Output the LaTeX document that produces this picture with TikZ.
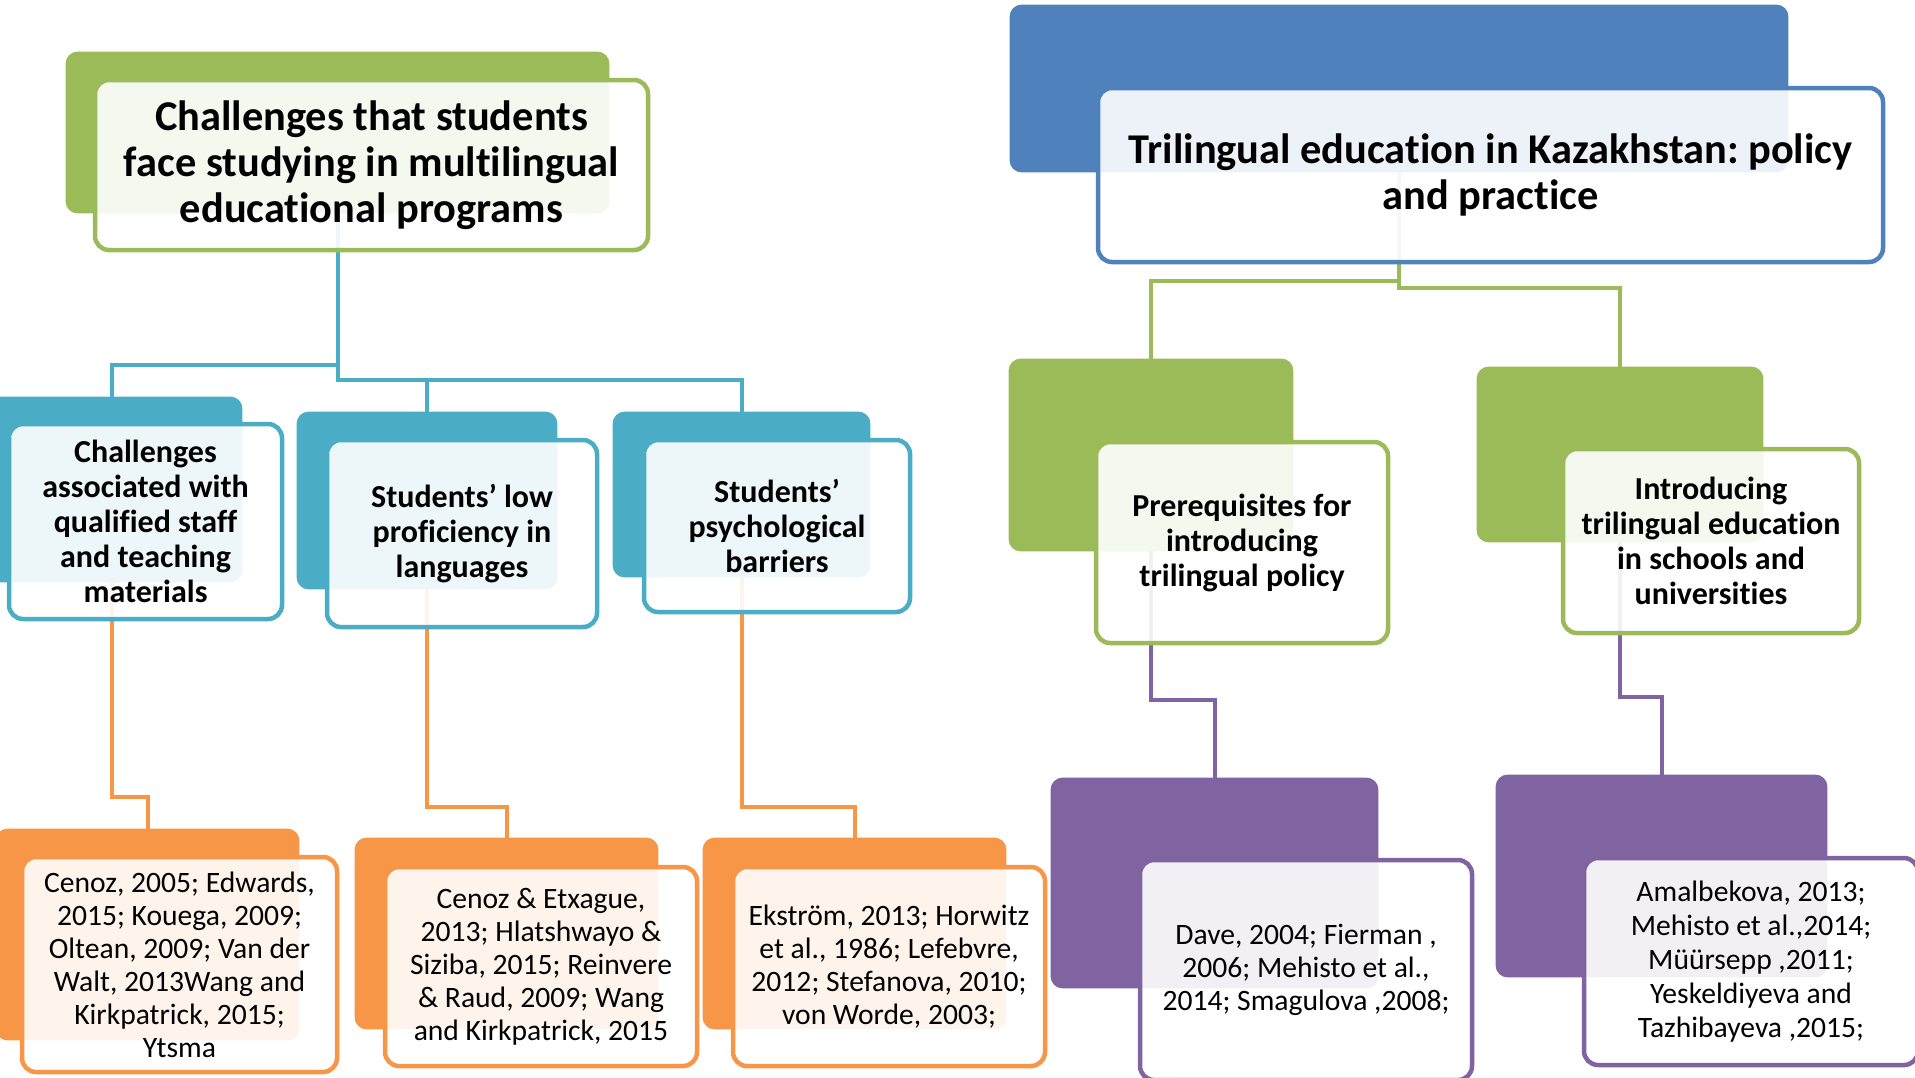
\documentclass[tikz,border=0pt]{standalone}
\usepackage{fontspec}
\setmainfont{Carlito}[Ligatures={TeX,NoCommon}]
\usetikzlibrary{fit}
\definecolor{accgreen}{HTML}{9BBB59}
\definecolor{accblue}{HTML}{4F81BD}
\definecolor{accteal}{HTML}{4BACC6}
\definecolor{accorange}{HTML}{F79646}
\definecolor{accpurple}{HTML}{8064A2}
\frenchspacing

\begin{document}
\begin{tikzpicture}[x=0.5pt, y=-0.5pt]
        \tikzstyle{back} = [rectangle, rounded corners=6pt, inner sep=0pt, draw=none]
        \tikzstyle{card} = [rectangle, rounded corners=7pt, inner sep=0pt, line width=2.25pt, fill=white, fill opacity=0.9]
        \tikzstyle{label} = [align=center, text=black, inner sep=0pt]
        \tikzstyle{link} = [line width=2pt]
        \tikzstyle{head} = [label, font=\fontsize{21.2}{23}\selectfont\bfseries]
        \tikzstyle{topic} = [label, font=\fontsize{16}{17.5}\selectfont\bfseries]
        \tikzstyle{refs} = [label, font=\fontsize{14.8}{16.5}\selectfont]

        \clip (0,0) rectangle (1915,1077);

        \node (lroot-bk) [back, fit={(66,52) (609,213)}] {};
        \node (ch1-bk) [back, fit={(-18,397) (242,582)}] {};
        \node (ch2-bk) [back, fit={(297,412) (557,589)}] {};
        \node (ch3-bk) [back, fit={(613,412) (870,577)}] {};
        \node (or1-bk) [back, fit={(-4,829) (299,1040)}] {};
        \node (or2-bk) [back, fit={(355,838) (658,1029)}] {};
        \node (or3-bk) [back, fit={(703,838) (1006,1029)}] {};
        \node (rroot-bk) [back, fit={(1010,5) (1788,172)}] {};
        \node (gr1-bk) [back, fit={(1009,359) (1293,551)}] {};
        \node (gr2-bk) [back, fit={(1477,367) (1763,542)}] {};
        \node (pu1-bk) [back, fit={(1051,778) (1378,988)}] {};
        \node (pu2-bk) [back, fit={(1496,775) (1827,977)}] {};

        \coordinate (lvlA) at (0,365);
        \coordinate (lvlB) at (0,380);
        \coordinate (lvlC) at (0,797);
        \coordinate (lvlD) at (0,807);
        \coordinate (lvlE) at (0,281);
        \coordinate (lvlF) at (0,288);
        \coordinate (lvlG) at (0,700);
        \coordinate (lvlH) at (0,697);

        \draw[link, accteal] (lroot-bk.center) |- (ch1-bk.north |- lvlA) -- (ch1-bk.north);
        \draw[link, accteal] (lroot-bk.center) |- (ch2-bk.north |- lvlB) -- (ch2-bk.north);
        \draw[link, accteal] (lroot-bk.center) |- (ch3-bk.north |- lvlB) -- (ch3-bk.north);
        \draw[link, accorange] (ch1-bk.center) |- (or1-bk.north |- lvlC) -- (or1-bk.north);
        \draw[link, accorange] (ch2-bk.center) |- (or2-bk.north |- lvlD) -- (or2-bk.north);
        \draw[link, accorange] (ch3-bk.center) |- (or3-bk.north |- lvlD) -- (or3-bk.north);
        \draw[link, accgreen] (rroot-bk.center) |- (gr1-bk.north |- lvlE) -- (gr1-bk.north);
        \draw[link, accgreen] (rroot-bk.center) |- (gr2-bk.north |- lvlF) -- (gr2-bk.north);
        \draw[link, accpurple] (gr1-bk.center) |- (pu1-bk.north |- lvlG) -- (pu1-bk.north);
        \draw[link, accpurple] (gr2-bk.center) |- (pu2-bk.north |- lvlH) -- (pu2-bk.north);

        \fill[accgreen, rounded corners=6pt] (lroot-bk.north west) rectangle (lroot-bk.south east);
        \fill[accteal, rounded corners=6pt] (ch1-bk.north west) rectangle (ch1-bk.south east);
        \fill[accteal, rounded corners=6pt] (ch2-bk.north west) rectangle (ch2-bk.south east);
        \fill[accteal, rounded corners=6pt] (ch3-bk.north west) rectangle (ch3-bk.south east);
        \fill[accorange, rounded corners=6pt] (or1-bk.north west) rectangle (or1-bk.south east);
        \fill[accorange, rounded corners=6pt] (or2-bk.north west) rectangle (or2-bk.south east);
        \fill[accorange, rounded corners=6pt] (or3-bk.north west) rectangle (or3-bk.south east);
        \fill[accblue, rounded corners=6pt] (rroot-bk.north west) rectangle (rroot-bk.south east);
        \fill[accgreen, rounded corners=6pt] (gr1-bk.north west) rectangle (gr1-bk.south east);
        \fill[accgreen, rounded corners=6pt] (gr2-bk.north west) rectangle (gr2-bk.south east);
        \fill[accpurple, rounded corners=6pt] (pu1-bk.north west) rectangle (pu1-bk.south east);
        \fill[accpurple, rounded corners=6pt] (pu2-bk.north west) rectangle (pu2-bk.south east);

        \node (lroot) [card, draw=accgreen, fit={(95,80) (648,250)}] {};
        \node (ch1) [card, draw=accteal, fit={(9,424) (282,619)}] {};
        \node (ch2) [card, draw=accteal, fit={(327,440) (597,627)}] {};
        \node (ch3) [card, draw=accteal, fit={(644,440) (910,612)}] {};
        \node (or1) [card, draw=accorange, fit={(22,857) (337,1072)}] {};
        \node (or2) [card, draw=accorange, fit={(385,867) (697,1066)}] {};
        \node (or3) [card, draw=accorange, fit={(733,867) (1045,1066)}] {};
        \node (rroot) [card, draw=accblue, fit={(1098,88) (1883,262)}] {};
        \node (gr1) [card, draw=accgreen, fit={(1096,442) (1388,643)}] {};
        \node (gr2) [card, draw=accgreen, fit={(1563,449) (1859,633)}] {};
        \node (pu1) [card, draw=accpurple, fit={(1140,860) (1472,1080)}] {};
        \node (pu2) [card, draw=accpurple, fit={(1584,858) (1918,1065)}] {};

        \node (lroot-txt) [head] at (lroot.center) {Challenges that students\\face studying in multilingual\\educational programs};
        \node (ch1-txt) [topic] at (ch1.center) {Challenges\\associated with\\qualified staff\\and teaching\\materials};
        \node (ch2-txt) [topic] at (ch2.center) {Students’ low\\proficiency in\\languages};
        \node (ch3-txt) [topic] at (ch3.center) {Students’\\psychological\\barriers};
        \node (or1-txt) [refs] at (or1.center) {Cenoz, 2005; Edwards,\\2015; Kouega, 2009;\\Oltean, 2009; Van der\\Walt, 2013Wang and\\Kirkpatrick, 2015;\\Ytsma};
        \node (or2-txt) [refs] at (or2.center) {Cenoz \& Etxague,\\2013; Hlatshwayo \&\\Siziba, 2015; Reinvere\\\& Raud, 2009; Wang\\and Kirkpatrick, 2015};
        \node (or3-txt) [refs] at (or3.center) {Ekström, 2013; Horwitz\\et al., 1986; Lefebvre,\\2012; Stefanova, 2010;\\von Worde, 2003;};
        \node (rroot-txt) [head] at (rroot.center) {Trilingual education in Kazakhstan: policy\\and practice};
        \node (gr1-txt) [topic] at (gr1.center) {Prerequisites for\\introducing\\trilingual policy};
        \node (gr2-txt) [topic] at (gr2.center) {Introducing\\trilingual education\\in schools and\\universities};
        \node (pu1-txt) [refs] at (pu1.center) {Dave, 2004; Fierman ,\\2006; Mehisto et al.,\\2014; Smagulova ,2008;};
        \node (pu2-txt) [refs, font=\fontsize{14.8}{17}\selectfont] at (pu2.center) {Amalbekova, 2013;\\Mehisto et al.,2014;\\Müürsepp ,2011;\\Yeskeldiyeva and\\Tazhibayeva ,2015;};
    \end{tikzpicture}
\end{document}
